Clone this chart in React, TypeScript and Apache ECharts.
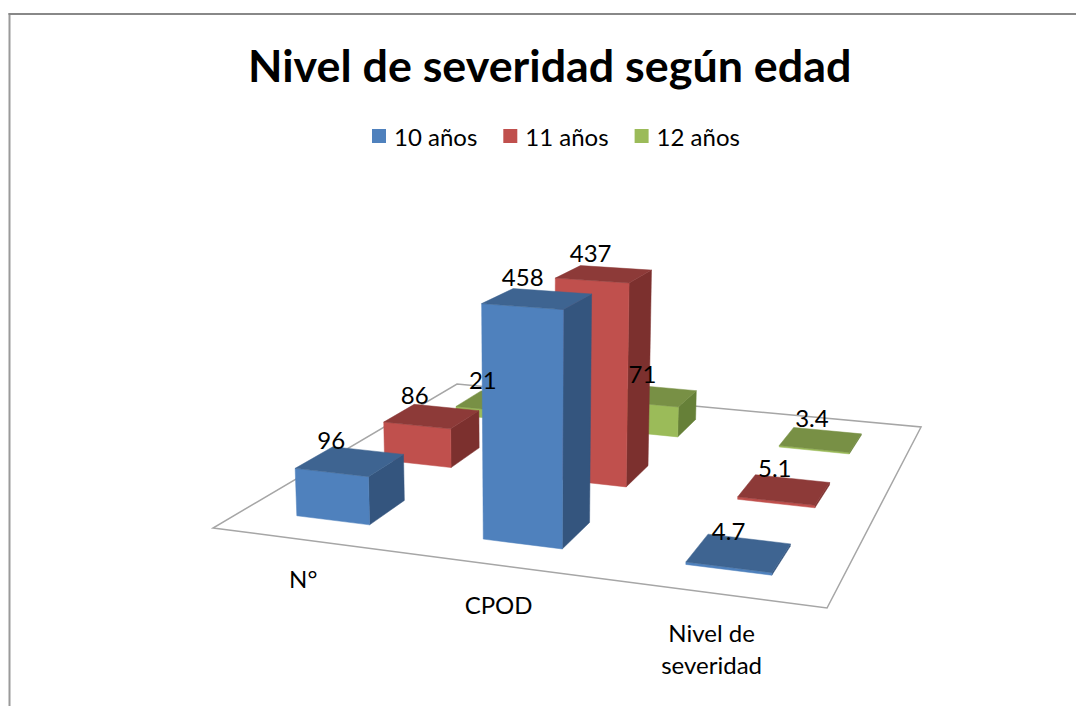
import React, { useEffect, useRef } from "react";
import * as echarts from "echarts";

const titleText = "Nivel de severidad según edad";
const categories = ["N°", "CPOD", "Nivel de\nseveridad"];
const seriesNames = ["10 años", "11 años", "12 años"];
const values10 = [96, 458, 4.7];
const values11 = [86, 437, 5.1];
const values12 = [21, 71, 3.4];

const front = ["#4F81BD", "#C0504D", "#9BBB59"];
const top = ["#3E6491", "#8D3A38", "#789045"];
const side = ["#34557E", "#7C302E", "#668038"];

// hidden cartesian grid: the library's scales feed the perspective projection
const GRID = { left: 100, top: 200, width: 600, height: 252.5 };
const Y_MAX = 500;
// homography of the unit floor square onto the screen
const H = { a: 513.3, b: 403, c: 213, d: 5.95, e: -10.4, f: 528, g: -0.1218, h: 0.3479 };
const VANISH_X = 530;
const VANISH_Q = 1.5e-4;
const HALF = 0.2; // half bar width, share of a category band
const BAR_SHIFT = -0.002;
const FS = 24;
const FONT = "Lato";

function project(s: number, t: number, height = 0): number[] {
  const w = H.g * s + H.h * t + 1;
  let x = (H.a * s + H.b * t + H.c) / w;
  let y = (H.d * s + H.e * t + H.f) / w;
  const hp = height / w;
  x += (x - VANISH_X) * hp * VANISH_Q;
  y -= hp;
  return [x, y];
}

function locate(api: any, cat: number, value: number) {
  const p = api.coord([cat, value]);
  const band = api.size([1, 0])[0];
  return {
    s: (p[0] - GRID.left) / GRID.width,
    band: band / GRID.width,
    height: GRID.top + GRID.height - p[1],
  };
}

const barSeries = (idx: number, values: number[]) => ({
  type: "custom",
  name: seriesNames[idx],
  z: 5 - idx,
  silent: true,
  clip: false,
  itemStyle: { color: front[idx] },
  encode: { x: 0, y: 1 },
  data: values.map((v, i) => [i, v]),
  renderItem: (_: any, api: any) => {
    const { s, band, height } = locate(api, api.value(0), api.value(1));
    const hw = band * HALF;
    const tc = (idx + 0.5) / 3;
    const dt = (1 / 3) * HALF;
    const s0 = s - hw + BAR_SHIFT, s1 = s + hw + BAR_SHIFT, t0 = tc - dt, t1 = tc + dt;
    const poly = (pts: number[][], fill: string) => ({
      type: "polygon",
      shape: { points: pts },
      style: { fill, stroke: fill, lineWidth: 0.5 },
    });
    return {
      type: "group",
      children: [
        poly([project(s1, t0), project(s1, t1), project(s1, t1, height), project(s1, t0, height)], side[idx]),
        poly([project(s0, t0), project(s1, t0), project(s1, t0, height), project(s0, t0, height)], front[idx]),
        poly([project(s0, t0, height), project(s1, t0, height), project(s1, t1, height), project(s0, t1, height)], top[idx]),
      ],
    };
  },
});

const labelRows: number[][] = [];
[values10, values11, values12].forEach((vals, si) => vals.forEach((v, i) => labelRows.push([i, v, si])));

const option: any = {
  animation: false,
  backgroundColor: "#ffffff",
  title: {
    text: titleText,
    left: 248,
    top: 42,
    padding: 0,
    textStyle: { fontFamily: FONT, fontWeight: "bold", fontSize: 44.8, color: "#000" },
  },
  legend: {
    data: seriesNames,
    left: 372,
    top: 124,
    padding: 0,
    itemWidth: 14,
    itemHeight: 14,
    itemGap: 26,
    icon: "rect",
    textStyle: { fontFamily: FONT, fontSize: FS, color: "#000", padding: [0, 0, 0, 3] },
    selectedMode: false,
  },
  grid: GRID,
  xAxis: { type: "category", data: categories, show: false },
  yAxis: { type: "value", min: 0, max: Y_MAX, show: false },
  graphic: [
    { type: "rect", shape: { x: 8.5, y: 13, width: 2, height: 693 }, style: { fill: "#9a9a9a" }, silent: true },
    { type: "rect", shape: { x: 8.5, y: 13, width: 1068, height: 2 }, style: { fill: "#888888" }, silent: true },
  ],
  series: [
    {
      type: "custom",
      name: "floor",
      z: 1,
      silent: true,
      clip: false,
      data: [[0, 0]],
      encode: { x: 0, y: 1 },
      renderItem: () => ({
        type: "polygon",
        shape: { points: [project(0, 0), project(1, 0), project(1, 1), project(0, 1)] },
        style: { fill: "#fff", stroke: "#a6a6a6", lineWidth: 1.5 },
      }),
    },
    barSeries(0, values10),
    barSeries(1, values11),
    barSeries(2, values12),
    {
      type: "custom",
      name: "categoryLabels",
      z: 10,
      silent: true,
      clip: false,
      data: categories.map((_, i) => [i, 0]),
      encode: { x: 0, y: 1 },
      renderItem: (_: any, api: any) => {
        const i = api.value(0);
        const { s } = locate(api, i, 0);
        const p = project(s, 0);
        return {
          type: "text",
          x: p[0] - 1.5,
          y: p[1] + 23,
          style: {
            text: categories[i],
            fill: "#000",
            align: "center",
            verticalAlign: "top",
            fontFamily: FONT,
            fontSize: FS,
            lineHeight: 32,
          },
        };
      },
    },
    {
      type: "custom",
      name: "valueLabels",
      z: 10,
      silent: true,
      clip: false,
      data: labelRows,
      encode: { x: 0, y: 1 },
      renderItem: (_: any, api: any) => {
        const { s, height } = locate(api, api.value(0), api.value(1));
        const p = project(s, (api.value(2) + 0.5) / 3, height);
        return {
          type: "text",
          x: p[0] - 25.5 + 0.0214 * p[0] - 2,
          y: p[1] - 22,
          style: {
            text: String(api.value(1)),
            fill: "#000",
            align: "center",
            verticalAlign: "middle",
            fontFamily: FONT,
            fontSize: FS,
          },
        };
      },
    },
  ],
};

export default function App() {
  const ref = useRef<HTMLDivElement>(null);
  useEffect(() => {
    document.body.style.margin = "0";
    const chart = echarts.init(ref.current!, null, { renderer: "svg" });
    chart.setOption(option);
    return () => chart.dispose();
  }, []);
  return <div ref={ref} style={{ width: 1076, height: 706 }} />;
}
